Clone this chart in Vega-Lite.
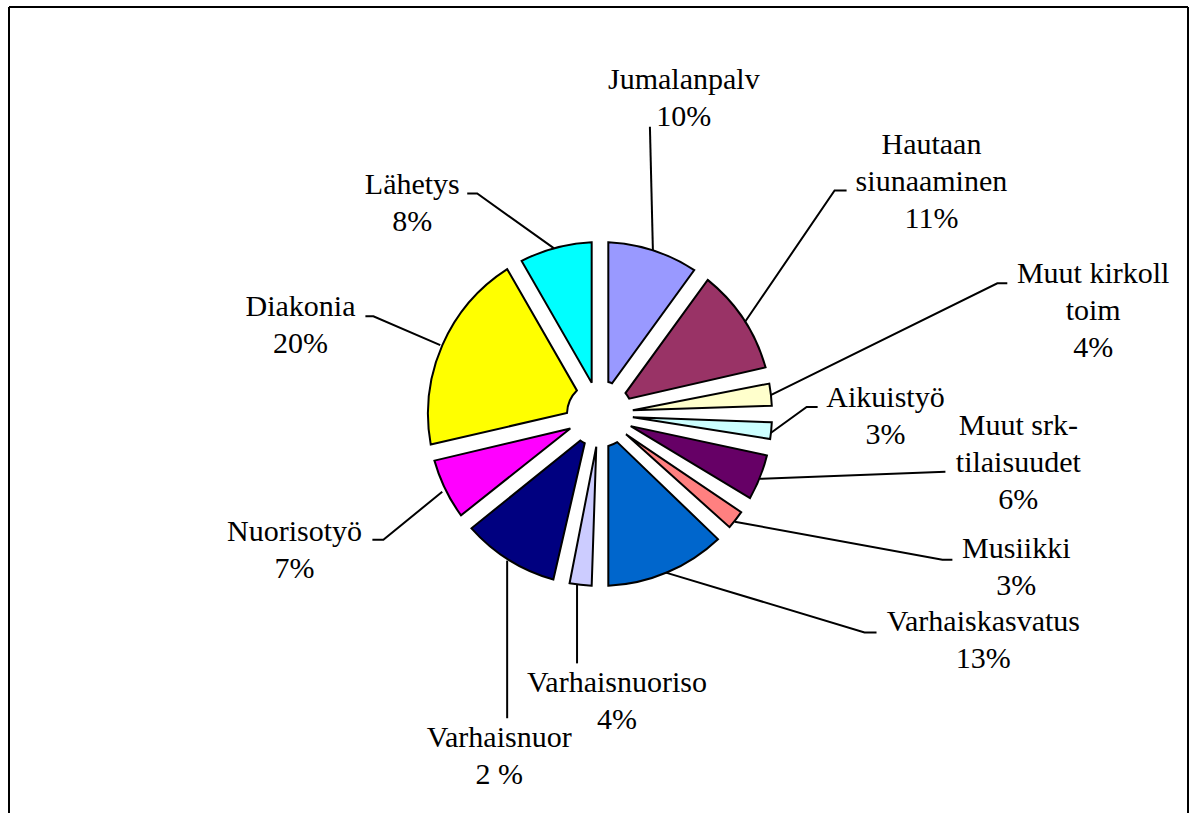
{
  "$schema": "https://vega.github.io/schema/vega-lite/v6.json",
  "width": 1197,
  "height": 814,
  "autosize": {"type": "fit", "contains": "padding"},
  "padding": {"left": 8, "top": 6, "right": 8, "bottom": 0},
  "background": "white",
  "config": {"view": {"stroke": null}},
  "datasets": {
    "frame": [{"fx": 0, "fx2": 1181, "fy": 0}],
    "slices": [
      {"i": 1, "name": "Jumalanpalv", "v": 10.0},
      {"i": 2, "name": "Hautaan siunaaminen", "v": 11.4},
      {"i": 3, "name": "Muut kirkoll toim", "v": 3.6},
      {"i": 4, "name": "Aikuistyö", "v": 3.1},
      {"i": 5, "name": "Muut srk-tilaisuudet", "v": 5.8},
      {"i": 6, "name": "Musiikki", "v": 3.3},
      {"i": 7, "name": "Varhaiskasvatus", "v": 12.8},
      {"i": 8, "name": "Varhaisnuoriso", "v": 3.6},
      {"i": 9, "name": "Varhaisnuor", "v": 10.6},
      {"i": 10, "name": "Nuorisotyö", "v": 7.2},
      {"i": 11, "name": "Diakonia", "v": 20.3},
      {"i": 12, "name": "Lähetys", "v": 8.3}
    ],
    "labels": [
      {"label": "Jumalanpalv\n10%", "x": 676, "y": 82},
      {"label": "Hautaan\nsiunaaminen\n11%", "x": 924, "y": 147},
      {"label": "Muut kirkoll\ntoim\n4%", "x": 1086, "y": 277},
      {"label": "Aikuistyö\n3%", "x": 878, "y": 401},
      {"label": "Muut srk-\ntilaisuudet\n6%", "x": 1011, "y": 429},
      {"label": "Musiikki\n3%", "x": 1009, "y": 552},
      {"label": "Varhaiskasvatus\n13%", "x": 976, "y": 626},
      {"label": "Varhaisnuoriso\n4%", "x": 609, "y": 687},
      {"label": "Varhaisnuor\n2 %", "x": 491, "y": 742},
      {"label": "Nuorisotyö\n7%", "x": 286, "y": 535},
      {"label": "Diakonia\n20%", "x": 292, "y": 310},
      {"label": "Lähetys\n8%", "x": 404, "y": 187}
    ],
    "leaders": [
      {"id": "Jumalanpalv", "k": 1, "x": 645, "y": 244},
      {"id": "Jumalanpalv", "k": 2, "x": 642, "y": 120},
      {"id": "Hautaan", "k": 1, "x": 737, "y": 316},
      {"id": "Hautaan", "k": 2, "x": 827, "y": 184},
      {"id": "Hautaan", "k": 3, "x": 839, "y": 184},
      {"id": "Muut kirkoll", "k": 1, "x": 763, "y": 389},
      {"id": "Muut kirkoll", "k": 2, "x": 990, "y": 277},
      {"id": "Muut kirkoll", "k": 3, "x": 1000, "y": 277},
      {"id": "Aikuistyö", "k": 1, "x": 763, "y": 427},
      {"id": "Aikuistyö", "k": 2, "x": 799, "y": 401},
      {"id": "Aikuistyö", "k": 3, "x": 810, "y": 401},
      {"id": "Muut srk", "k": 1, "x": 752, "y": 473},
      {"id": "Muut srk", "k": 2, "x": 938, "y": 466},
      {"id": "Musiikki", "k": 1, "x": 727, "y": 516},
      {"id": "Musiikki", "k": 2, "x": 935, "y": 554},
      {"id": "Musiikki", "k": 3, "x": 945, "y": 554},
      {"id": "Varhaiskasvatus", "k": 1, "x": 658, "y": 567},
      {"id": "Varhaiskasvatus", "k": 2, "x": 857, "y": 627},
      {"id": "Varhaiskasvatus", "k": 3, "x": 869, "y": 627},
      {"id": "Varhaisnuoriso", "k": 1, "x": 569, "y": 579},
      {"id": "Varhaisnuoriso", "k": 2, "x": 569, "y": 658},
      {"id": "Varhaisnuor", "k": 1, "x": 499, "y": 555},
      {"id": "Varhaisnuor", "k": 2, "x": 499, "y": 713},
      {"id": "Nuorisotyö", "k": 1, "x": 434, "y": 486},
      {"id": "Nuorisotyö", "k": 2, "x": 375, "y": 534},
      {"id": "Nuorisotyö", "k": 3, "x": 364, "y": 534},
      {"id": "Diakonia", "k": 1, "x": 432, "y": 339},
      {"id": "Diakonia", "k": 2, "x": 365, "y": 310},
      {"id": "Diakonia", "k": 3, "x": 357, "y": 310},
      {"id": "Lähetys", "k": 1, "x": 546, "y": 242},
      {"id": "Lähetys", "k": 2, "x": 469, "y": 187},
      {"id": "Lähetys", "k": 3, "x": 459, "y": 187}
    ]
  },
  "layer": [
    {
      "data": {"name": "frame"},
      "mark": {"type": "rule", "color": "black", "strokeWidth": 2},
      "encoding": {"x": {"field": "fx", "type": "quantitative", "scale": {"domain": [0, 1181], "nice": false, "zero": false}, "axis": null}}
    },
    {
      "data": {"name": "frame"},
      "mark": {"type": "rule", "color": "black", "strokeWidth": 2},
      "encoding": {"x": {"field": "fx2", "type": "quantitative", "scale": {"domain": [0, 1181], "nice": false, "zero": false}, "axis": null}}
    },
    {
      "data": {"name": "frame"},
      "mark": {"type": "rule", "color": "black", "strokeWidth": 2},
      "encoding": {"y": {"field": "fy", "type": "quantitative", "scale": {"domain": [0, 808], "nice": false, "zero": false, "reverse": true}, "axis": null}}
    },
    {
      "data": {"name": "slices"},
      "mark": {"type": "arc", "outerRadius": 172, "innerRadius": 33, "padAngle": 0.095, "stroke": "black", "strokeWidth": 2},
      "encoding": {
        "theta": {"field": "v", "type": "quantitative", "stack": true},
        "order": {"field": "i", "type": "quantitative"},
        "color": {
          "field": "name", "type": "nominal", "legend": null,
          "scale": {
            "domain": ["Jumalanpalv", "Hautaan siunaaminen", "Muut kirkoll toim", "Aikuistyö", "Muut srk-tilaisuudet", "Musiikki", "Varhaiskasvatus", "Varhaisnuoriso", "Varhaisnuor", "Nuorisotyö", "Diakonia", "Lähetys"],
            "range": ["#9999FF", "#993366", "#FFFFCC", "#CCFFFF", "#660066", "#FF8080", "#0066CC", "#CCCCFF", "#000080", "#FF00FF", "#FFFF00", "#00FFFF"]
          }
        },
        "x": {"datum": 592, "type": "quantitative", "scale": {"domain": [0, 1181], "nice": false, "zero": false}, "axis": null},
        "y": {"datum": 408, "type": "quantitative", "scale": {"domain": [0, 808], "nice": false, "zero": false, "reverse": true}, "axis": null}
      }
    },
    {
      "data": {"name": "leaders"},
      "mark": {"type": "line", "color": "black", "strokeWidth": 2},
      "encoding": {
        "x": {"field": "x", "type": "quantitative", "scale": {"domain": [0, 1181], "nice": false, "zero": false}, "axis": null},
        "y": {"field": "y", "type": "quantitative", "scale": {"domain": [0, 808], "nice": false, "zero": false, "reverse": true}, "axis": null},
        "detail": {"field": "id", "type": "nominal"},
        "order": {"field": "k", "type": "quantitative"}
      }
    },
    {
      "data": {"name": "labels"},
      "mark": {"type": "text", "font": "Times New Roman, Liberation Serif, DejaVu Serif", "fontSize": 30, "lineHeight": 37, "align": "center", "baseline": "alphabetic", "lineBreak": "\n", "color": "black"},
      "encoding": {
        "x": {"field": "x", "type": "quantitative", "scale": {"domain": [0, 1181], "nice": false, "zero": false}, "axis": null},
        "y": {"field": "y", "type": "quantitative", "scale": {"domain": [0, 808], "nice": false, "zero": false, "reverse": true}, "axis": null},
        "text": {"field": "label", "type": "nominal"}
      }
    }
  ]
}
